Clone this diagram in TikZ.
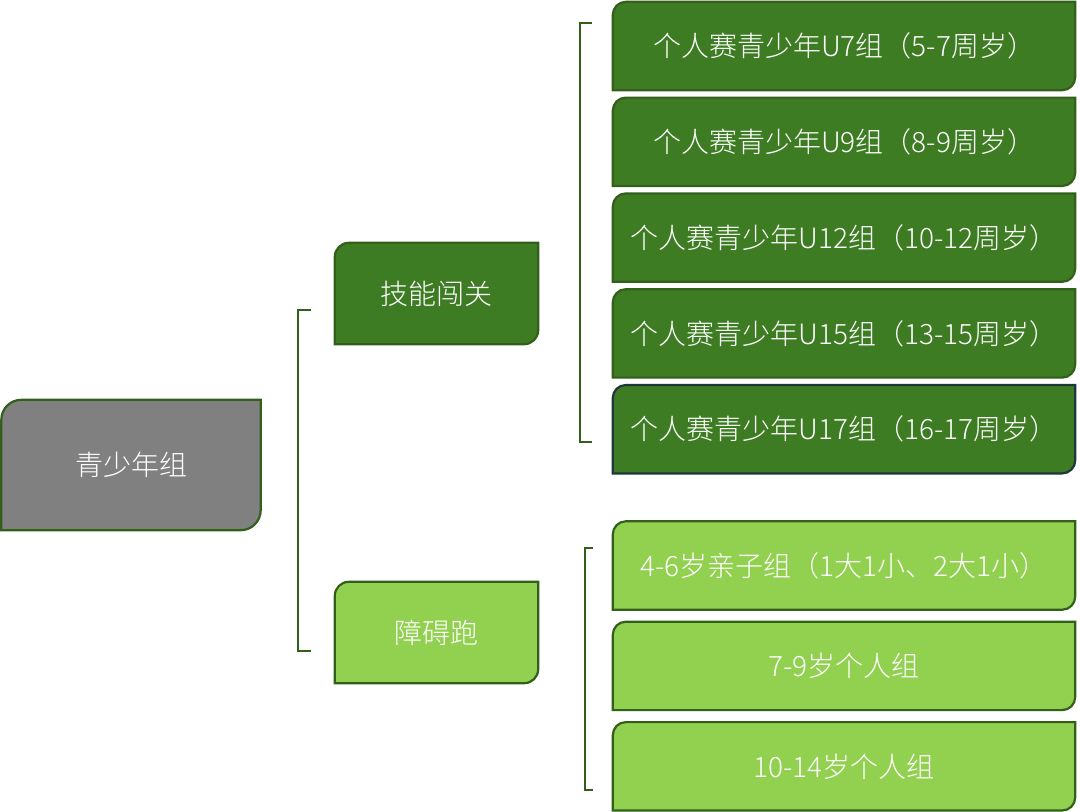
\documentclass[tikz,border=0pt]{standalone}
\usepackage{fontspec}
\setmainfont{Noto Sans CJK SC Light}
\usetikzlibrary{positioning, backgrounds}
\definecolor{rootgray}{RGB}{128,128,128}
\definecolor{darkleaf}{RGB}{62,124,35}
\definecolor{lightleaf}{RGB}{146,208,80}
\definecolor{edgegreen}{RGB}{50,96,26}
\definecolor{edgenavy}{RGB}{28,56,58}

\begin{document}
\begin{tikzpicture}[x=1pt, y=-1pt, node distance=7.4pt,
    every node/.style={inner sep=0pt, text=white, font=\fontsize{28}{34}\selectfont},
    mid/.style={minimum width=203pt, minimum height=101pt},
    leaf/.style={minimum width=462pt, minimum height=88pt},
    bracketline/.style={draw=edgegreen, line width=2pt}]
    \useasboundingbox (0,0) rectangle (1080,812);

    \node (root) [minimum width=259pt, minimum height=130pt] at (131,465) {青少年组};
    \node (skill) [mid] at (436.5,293.5) {技能闯关};
    \node (run) [mid] at (436.5,632.5) {障碍跑};

    \node (u7) [leaf] at (844,46) {个人赛青少年U7组（5-7周岁）};
    \node (u9) [leaf, below=of u7] {个人赛青少年U9组（8-9周岁）};
    \node (u12) [leaf, below=of u9] {个人赛青少年U12组（10-12周岁）};
    \node (u15) [leaf, below=of u12] {个人赛青少年U15组（13-15周岁）};
    \node (u17) [leaf, below=of u15] {个人赛青少年U17组（16-17周岁）};

    \node (p46) [leaf] at (844,565.5) {4-6岁亲子组（1大1小、2大1小）};
    \node (p79) [leaf, below=12pt of p46] {7-9岁个人组};
    \node (p1014) [leaf, below=12pt of p79] {10-14岁个人组};

    % boxes: rounded top left and bottom right only
    \begin{scope}[on background layer]
    \foreach \n/\c/\e/\r in {root/rootgray/edgegreen/20pt, skill/darkleaf/edgegreen/14pt,
        run/lightleaf/edgegreen/14pt, u7/darkleaf/edgegreen/13pt, u9/darkleaf/edgegreen/13pt,
        u12/darkleaf/edgegreen/13pt, u15/darkleaf/edgegreen/13pt, u17/darkleaf/edgenavy/13pt,
        p46/lightleaf/edgegreen/13pt, p79/lightleaf/edgegreen/13pt, p1014/lightleaf/edgegreen/13pt}
        \draw[draw=\e, line width=2.2pt, fill=\c] (\n.south west) [rounded corners=\r] -- (\n.north west)
            [sharp corners] -- (\n.north east) [rounded corners=\r] -- (\n.south east) [sharp corners] -- cycle;
    \end{scope}

    % brackets
    \coordinate (b1t) at (298,310);
    \coordinate (b1b) at (298,651);
    \coordinate (b2t) at (580,23);
    \coordinate (b2b) at (580,442);
    \coordinate (b3t) at (585,548);
    \coordinate (b3b) at (585,790);
    \draw[bracketline] ([xshift=13pt]b1t) -- (b1t) -- (b1b) -- ([xshift=13pt]b1b);
    \draw[bracketline] ([xshift=12pt]b2t) -- (b2t) -- (b2b) -- ([xshift=12pt]b2b);
    \draw[bracketline] ([xshift=8pt]b3t) -- (b3t) -- (b3b) -- ([xshift=8pt]b3b);
\end{tikzpicture}
\end{document}
